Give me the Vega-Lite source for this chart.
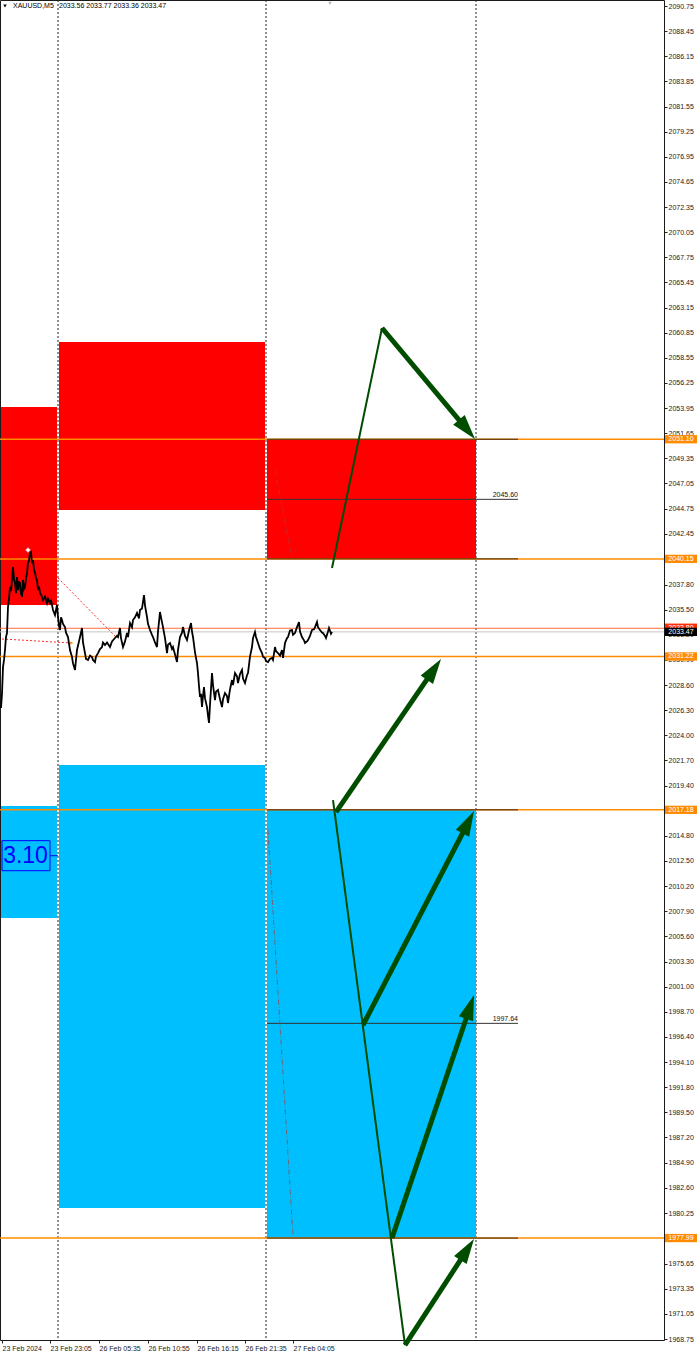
{
  "$schema": "https://vega.github.io/schema/vega-lite/v6.json",
  "width": 664,
  "height": 1340,
  "autosize": {"type": "none"},
  "padding": {"left": 0, "top": 0, "right": 36, "bottom": 18},
  "background": "white",
  "config": {
    "view": {"stroke": "#1a1a1a", "strokeWidth": 1},
    "font": "Liberation Sans",
    "axis": {"labelFont": "Liberation Sans", "labelFontSize": 7, "labelColor": "#222222", "tickColor": "#222222", "tickSize": 3, "grid": false, "domain": false, "labelOverlap": false, "labelFlush": false}
  },
  "resolve": {"scale": {"color": "independent"}},
  "datasets": {
    "zones": [
      {"x0": 1, "x1": 57, "hi": 2054.05, "lo": 2035.93, "kind": "supply"},
      {"x0": 59, "x1": 265, "hi": 2060.00, "lo": 2044.62, "kind": "supply"},
      {"x0": 267, "x1": 476, "hi": 2051.10, "lo": 2040.15, "kind": "supply"},
      {"x0": 1, "x1": 57, "hi": 2017.53, "lo": 2007.28, "kind": "demand"},
      {"x0": 59, "x1": 265, "hi": 2021.28, "lo": 1980.74, "kind": "demand"},
      {"x0": 267, "x1": 476, "hi": 2017.18, "lo": 1977.99, "kind": "demand"}
    ],
    "separators": [{"x": 58}, {"x": 266}, {"x": 476}],
    "levels": [{"p": 2051.10}, {"p": 2040.15}, {"p": 2031.22}, {"p": 2017.18}, {"p": 1977.99}],
    "segments": [{"p": 2051.10}, {"p": 2040.15}, {"p": 2017.18}, {"p": 1977.99}],
    "midlines": [{"p": 2045.60, "label": "2045.60"}, {"p": 1997.64, "label": "1997.64"}],
    "quotes": [{"p": 2033.80, "kind": "ask", "label": "2033.80"}, {"p": 2033.47, "kind": "bid", "label": "2033.47"}],
    "tags": [
      {"p": 2051.10, "label": "2051.10", "kind": "level"},
      {"p": 2040.15, "label": "2040.15", "kind": "level"},
      {"p": 2031.22, "label": "2031.22", "kind": "level"},
      {"p": 2017.18, "label": "2017.18", "kind": "level"},
      {"p": 1977.99, "label": "1977.99", "kind": "level"},
      {"p": 2033.85, "label": "2033.80", "kind": "ask"},
      {"p": 2033.47, "label": "2033.47", "kind": "bid"}
    ],
    "hints": [
      {"seg": "a", "x": 58, "p": 2038.40}, {"seg": "a", "x": 116, "p": 2033.00},
      {"seg": "b", "x": 2, "p": 2032.82}, {"seg": "b", "x": 72, "p": 2032.45}
    ],
    "faint": [
      {"seg": "c", "x": 275, "p": 2048.28}, {"seg": "c", "x": 292, "p": 2040.23},
      {"seg": "d", "x": 268, "p": 2015.33}, {"seg": "d", "x": 293, "p": 1978.17}
    ],
    "price": [
      {"x":1,"p":2026.5},{"x":2,"p":2027.8},{"x":3,"p":2030.25},{"x":4,"p":2030.9},{"x":5,"p":2031.81},{"x":6,"p":2033.0},{"x":7,"p":2033.36},{"x":8,"p":2035.74},{"x":9,"p":2036.5},{"x":10,"p":2037.57},{"x":11,"p":2037.2},{"x":12,"p":2038.22},{"x":13,"p":2039.41},{"x":14,"p":2038.3},{"x":15,"p":2037.94},{"x":16,"p":2037.0},{"x":17,"p":2038.49},{"x":18,"p":2037.3},{"x":19,"p":2038.0},{"x":20,"p":2037.94},{"x":21,"p":2037.0},{"x":22,"p":2036.66},{"x":23,"p":2038.22},{"x":24,"p":2037.4},{"x":25,"p":2037.57},{"x":26,"p":2038.3},{"x":27,"p":2038.86},{"x":28,"p":2039.77},{"x":29,"p":2040.0},{"x":30,"p":2040.69},{"x":31,"p":2040.78},{"x":32,"p":2039.77},{"x":33,"p":2040.05},{"x":34,"p":2039.2},{"x":35,"p":2038.86},{"x":36,"p":2038.4},{"x":37,"p":2038.22},{"x":38,"p":2037.3},{"x":39,"p":2037.6},{"x":40,"p":2037.03},{"x":41,"p":2036.9},{"x":42,"p":2036.66},{"x":43,"p":2036.38},{"x":45,"p":2036.7},{"x":47,"p":2036.11},{"x":48,"p":2036.5},{"x":50,"p":2036.11},{"x":51,"p":2036.4},{"x":53,"p":2035.47},{"x":55,"p":2035.01},{"x":57,"p":2035.93},{"x":58,"p":2034.83},{"x":59,"p":2034.0},{"x":60,"p":2033.64},{"x":61,"p":2034.8},{"x":62,"p":2034.55},{"x":63,"p":2034.2},{"x":65,"p":2033.91},{"x":66,"p":2033.4},{"x":68,"p":2033.0},{"x":70,"p":2031.8},{"x":72,"p":2031.17},{"x":73,"p":2030.6},{"x":75,"p":2029.98},{"x":76,"p":2030.9},{"x":77,"p":2031.81},{"x":79,"p":2032.6},{"x":80,"p":2033.0},{"x":82,"p":2033.82},{"x":83,"p":2032.5},{"x":85,"p":2031.53},{"x":86,"p":2031.0},{"x":88,"p":2030.89},{"x":90,"p":2031.3},{"x":92,"p":2031.17},{"x":93,"p":2030.9},{"x":95,"p":2030.71},{"x":96,"p":2031.2},{"x":98,"p":2031.53},{"x":100,"p":2031.9},{"x":102,"p":2032.08},{"x":103,"p":2032.5},{"x":105,"p":2032.27},{"x":107,"p":2032.5},{"x":110,"p":2032.08},{"x":112,"p":2032.6},{"x":115,"p":2032.91},{"x":117,"p":2033.1},{"x":118,"p":2033.0},{"x":120,"p":2033.82},{"x":121,"p":2032.9},{"x":123,"p":2032.08},{"x":125,"p":2032.6},{"x":127,"p":2033.36},{"x":128,"p":2033.0},{"x":130,"p":2034.28},{"x":132,"p":2033.9},{"x":133,"p":2034.55},{"x":135,"p":2034.8},{"x":137,"p":2035.2},{"x":139,"p":2034.7},{"x":140,"p":2035.47},{"x":142,"p":2035.6},{"x":144,"p":2036.84},{"x":145,"p":2035.9},{"x":147,"p":2034.83},{"x":148,"p":2034.2},{"x":150,"p":2033.64},{"x":152,"p":2033.2},{"x":153,"p":2033.0},{"x":155,"p":2032.5},{"x":157,"p":2032.08},{"x":158,"p":2033.5},{"x":160,"p":2035.29},{"x":161,"p":2034.8},{"x":163,"p":2033.91},{"x":165,"p":2032.9},{"x":167,"p":2031.53},{"x":168,"p":2032.3},{"x":170,"p":2032.45},{"x":172,"p":2031.9},{"x":173,"p":2032.08},{"x":175,"p":2031.4},{"x":177,"p":2030.71},{"x":178,"p":2031.8},{"x":180,"p":2033.0},{"x":182,"p":2033.4},{"x":183,"p":2033.91},{"x":185,"p":2033.1},{"x":187,"p":2032.72},{"x":189,"p":2033.6},{"x":191,"p":2034.28},{"x":192,"p":2033.5},{"x":193,"p":2033.0},{"x":195,"p":2031.6},{"x":197,"p":2030.62},{"x":198,"p":2029.7},{"x":199,"p":2028.5},{"x":200,"p":2027.51},{"x":201,"p":2027.8},{"x":202,"p":2026.59},{"x":203,"p":2027.6},{"x":204,"p":2028.42},{"x":205,"p":2027.4},{"x":207,"p":2026.59},{"x":208,"p":2025.8},{"x":209,"p":2025.13},{"x":210,"p":2026.8},{"x":212,"p":2029.7},{"x":213,"p":2028.6},{"x":215,"p":2027.23},{"x":216,"p":2028.0},{"x":218,"p":2028.15},{"x":220,"p":2027.3},{"x":222,"p":2026.59},{"x":223,"p":2027.3},{"x":225,"p":2027.87},{"x":227,"p":2027.6},{"x":228,"p":2026.96},{"x":230,"p":2028.2},{"x":232,"p":2029.06},{"x":233,"p":2028.6},{"x":235,"p":2029.7},{"x":237,"p":2029.4},{"x":238,"p":2028.79},{"x":240,"p":2029.6},{"x":242,"p":2029.98},{"x":243,"p":2029.2},{"x":245,"p":2028.79},{"x":247,"p":2029.5},{"x":248,"p":2029.7},{"x":250,"p":2031.2},{"x":252,"p":2032.08},{"x":253,"p":2032.9},{"x":255,"p":2033.46},{"x":256,"p":2033.0},{"x":258,"p":2032.45},{"x":260,"p":2031.9},{"x":262,"p":2031.53},{"x":263,"p":2031.2},{"x":265,"p":2031.08},{"x":266,"p":2030.8},{"x":268,"p":2030.71},{"x":270,"p":2031.0},{"x":272,"p":2031.08},{"x":273,"p":2030.9},{"x":275,"p":2032.08},{"x":276,"p":2031.7},{"x":278,"p":2031.53},{"x":280,"p":2031.3},{"x":282,"p":2031.8},{"x":283,"p":2031.08},{"x":285,"p":2032.45},{"x":287,"p":2032.9},{"x":288,"p":2033.0},{"x":290,"p":2033.6},{"x":292,"p":2033.64},{"x":293,"p":2033.2},{"x":295,"p":2033.36},{"x":297,"p":2033.9},{"x":299,"p":2034.37},{"x":300,"p":2033.5},{"x":302,"p":2033.0},{"x":304,"p":2032.7},{"x":305,"p":2032.45},{"x":307,"p":2032.6},{"x":308,"p":2032.72},{"x":310,"p":2033.1},{"x":312,"p":2033.64},{"x":314,"p":2033.7},{"x":315,"p":2033.91},{"x":317,"p":2034.37},{"x":318,"p":2033.9},{"x":320,"p":2033.64},{"x":322,"p":2033.4},{"x":323,"p":2033.36},{"x":325,"p":2033.1},{"x":326,"p":2032.91},{"x":328,"p":2033.5},{"x":329,"p":2033.82},{"x":331,"p":2033.3},{"x":332,"p":2033.47}
    ],
    "paths": [
      {"seg": "t1", "w": "thin", "o": 0, "x": 332, "p": 2039.31},
      {"seg": "t1", "w": "thin", "o": 1, "x": 382, "p": 2061.28},
      {"seg": "t2", "w": "thin", "o": 0, "x": 333, "p": 2018.08},
      {"seg": "t2", "w": "thin", "o": 1, "x": 405, "p": 1968.20},
      {"seg": "k1", "w": "thick", "o": 0, "x": 382, "p": 2061.28},
      {"seg": "k1", "w": "thick", "o": 1, "x": 467.3, "p": 2051.96},
      {"seg": "k2", "w": "thick", "o": 0, "x": 336, "p": 2016.98},
      {"seg": "k2", "w": "thick", "o": 1, "x": 434.2, "p": 2030.08},
      {"seg": "k3", "w": "thick", "o": 0, "x": 363, "p": 1997.49},
      {"seg": "k3", "w": "thick", "o": 1, "x": 468.5, "p": 2016.09},
      {"seg": "k4", "w": "thick", "o": 0, "x": 392, "p": 1977.99},
      {"seg": "k4", "w": "thick", "o": 1, "x": 470.2, "p": 1999.19},
      {"seg": "k5", "w": "thick", "o": 0, "x": 405, "p": 1968.20},
      {"seg": "k5", "w": "thick", "o": 1, "x": 467.5, "p": 1976.97}
    ],
    "heads": [
      {"x": 475, "p": 2051.12, "heading": 140.0},
      {"x": 441, "p": 2030.98, "heading": 34.5},
      {"x": 474, "p": 2017.07, "heading": 27.4},
      {"x": 474, "p": 2000.23, "heading": 18.6},
      {"x": 474, "p": 1977.90, "heading": 33.1}
    ],
    "captions": [
      {"x": 13, "p": 2090.72, "text": "XAUUSD,M5"},
      {"x": 59, "p": 2090.72, "text": "2033.56 2033.77 2033.36 2033.47"}
    ]
  },
  "layer": [
    {
      "data": {"name": "separators"},
      "mark": {"type": "rule", "color": "#222222", "strokeDash": [2, 2], "strokeWidth": 1},
      "encoding": {
        "x": {"field": "x", "type": "quantitative", "scale": {"domain": [0, 664], "nice": false, "zero": false},
          "axis": {"title": null, "orient": "bottom", "labelOverlap": false, "labelFlush": false, "tickCount": 20, "values": [2, 50, 99, 148, 197, 245, 293], "labelAlign": "left", "labelPadding": 1,
            "labelExpr": "datum.value == 2 ? '23 Feb 2024' : datum.value == 50 ? '23 Feb 23:05' : datum.value == 99 ? '26 Feb 05:35' : datum.value == 148 ? '26 Feb 10:55' : datum.value == 197 ? '26 Feb 16:15' : datum.value == 245 ? '26 Feb 21:35' : '27 Feb 04:05'"}}
      }
    },
    {
      "data": {"name": "zones"},
      "mark": {"type": "rect"},
      "encoding": {
        "x": {"field": "x0", "type": "quantitative"},
        "x2": {"field": "x1"},
        "y": {"field": "hi", "type": "quantitative", "scale": {"domain": [1968.66, 2091.30], "nice": false, "zero": false},
          "axis": {"title": null, "orient": "right", "format": ".2f", "labelPadding": 1, "labelOverlap": false, "labelFlush": false, "labelBound": false, "tickCount": 80,
            "values": [2090.75, 2088.45, 2086.15, 2083.85, 2081.55, 2079.25, 2076.95, 2074.65, 2072.35, 2070.05, 2067.75, 2065.45, 2063.15, 2060.85, 2058.55, 2056.25, 2053.95, 2051.65, 2049.35, 2047.05, 2044.75, 2042.45, 2040.15, 2037.80, 2035.50, 2033.20, 2030.90, 2028.60, 2026.30, 2024.00, 2021.70, 2019.40, 2017.10, 2014.80, 2012.50, 2010.20, 2007.90, 2005.60, 2003.30, 2001.00, 1998.70, 1996.40, 1994.10, 1991.80, 1989.50, 1987.20, 1984.90, 1982.60, 1980.25, 1977.95, 1975.65, 1973.35, 1971.05, 1968.75]}},
        "y2": {"field": "lo"},
        "color": {"field": "kind", "type": "nominal", "scale": {"domain": ["supply", "demand"], "range": ["#ff0000", "#00bfff"]}, "legend": null}
      }
    },
    {
      "data": {"name": "levels"},
      "mark": {"type": "rule", "color": "#ff8c00", "strokeWidth": 1.5},
      "encoding": {"y": {"field": "p", "type": "quantitative"}}
    },
    {
      "data": {"name": "segments"},
      "mark": {"type": "rule", "color": "#3d2614", "strokeWidth": 1},
      "encoding": {
        "x": {"datum": 267, "type": "quantitative"},
        "x2": {"datum": 518},
        "y": {"field": "p", "type": "quantitative"}
      }
    },
    {
      "data": {"name": "midlines"},
      "mark": {"type": "rule", "color": "#333333", "strokeWidth": 1},
      "encoding": {
        "x": {"datum": 267, "type": "quantitative"},
        "x2": {"datum": 518},
        "y": {"field": "p", "type": "quantitative"}
      }
    },
    {
      "data": {"name": "midlines"},
      "mark": {"type": "text", "align": "right", "baseline": "bottom", "dy": -1, "fontSize": 7, "color": "#111111"},
      "encoding": {
        "x": {"datum": 518, "type": "quantitative"},
        "y": {"field": "p", "type": "quantitative"},
        "text": {"field": "label"}
      }
    },
    {
      "data": {"name": "quotes"},
      "mark": {"type": "rule", "strokeWidth": 1},
      "encoding": {
        "y": {"field": "p", "type": "quantitative"},
        "color": {"field": "kind", "type": "nominal", "scale": {"domain": ["ask", "bid"], "range": ["#ff6a3d", "#c4c4c4"]}, "legend": null}
      }
    },
    {
      "data": {"name": "faint"},
      "mark": {"type": "line", "color": "#a83a3a", "strokeWidth": 1, "strokeDash": [5, 2, 1, 2], "opacity": 0.7},
      "encoding": {
        "x": {"field": "x", "type": "quantitative"},
        "y": {"field": "p", "type": "quantitative"},
        "detail": {"field": "seg"}
      }
    },
    {
      "data": {"name": "hints"},
      "mark": {"type": "line", "color": "#ff2a2a", "strokeWidth": 1, "strokeDash": [2, 2]},
      "encoding": {
        "x": {"field": "x", "type": "quantitative"},
        "y": {"field": "p", "type": "quantitative"},
        "detail": {"field": "seg"}
      }
    },
    {
      "data": {"values": [{"x": 72, "p": 2032.45}, {"x": 116, "p": 2033.0}]},
      "mark": {"type": "point", "shape": "triangle-right", "filled": true, "color": "#e8a000", "size": 14},
      "encoding": {
        "x": {"field": "x", "type": "quantitative"},
        "y": {"field": "p", "type": "quantitative"}
      }
    },
    {
      "data": {"name": "price"},
      "mark": {"type": "line", "color": "#000000", "strokeWidth": 1.8},
      "encoding": {
        "x": {"field": "x", "type": "quantitative"},
        "y": {"field": "p", "type": "quantitative"}
      }
    },
    {
      "data": {"values": [{"x": 28, "p": 2040.96}]},
      "mark": {"type": "point", "shape": "diamond", "filled": true, "fill": "white", "stroke": "#ff3030", "strokeWidth": 1, "size": 30, "opacity": 1},
      "encoding": {
        "x": {"field": "x", "type": "quantitative"},
        "y": {"field": "p", "type": "quantitative"}
      }
    },
    {
      "data": {"name": "paths"},
      "transform": [{"filter": "datum.w == 'thin'"}],
      "mark": {"type": "line", "color": "#004d00", "strokeWidth": 2},
      "encoding": {
        "x": {"field": "x", "type": "quantitative"},
        "y": {"field": "p", "type": "quantitative"},
        "detail": {"field": "seg"},
        "order": {"field": "o"}
      }
    },
    {
      "data": {"name": "paths"},
      "transform": [{"filter": "datum.w == 'thick'"}],
      "mark": {"type": "line", "color": "#004d00", "strokeWidth": 5, "strokeCap": "butt"},
      "encoding": {
        "x": {"field": "x", "type": "quantitative"},
        "y": {"field": "p", "type": "quantitative"},
        "detail": {"field": "seg"},
        "order": {"field": "o"}
      }
    },
    {
      "data": {"name": "heads"},
      "mark": {"type": "point", "shape": "M0,0L-0.3,1L0.3,1Z", "filled": true, "color": "#004d00", "size": 2500, "opacity": 1},
      "encoding": {
        "x": {"field": "x", "type": "quantitative"},
        "y": {"field": "p", "type": "quantitative"},
        "angle": {"field": "heading", "type": "quantitative", "scale": null}
      }
    },
    {
      "data": {"values": [{"x0": 2, "x1": 50, "hi": 2014.36, "lo": 2011.61}]},
      "mark": {"type": "rect", "fill": null, "fillOpacity": 0, "stroke": "#0000ff", "strokeWidth": 1},
      "encoding": {
        "x": {"field": "x0", "type": "quantitative"},
        "x2": {"field": "x1"},
        "y": {"field": "hi", "type": "quantitative"},
        "y2": {"field": "lo"}
      }
    },
    {
      "data": {"values": [{"x0": 50, "x1": 58, "p": 2012.98}]},
      "mark": {"type": "rule", "color": "#0000ff", "strokeWidth": 1},
      "encoding": {
        "x": {"field": "x0", "type": "quantitative"},
        "x2": {"field": "x1"},
        "y": {"field": "p", "type": "quantitative"}
      }
    },
    {
      "data": {"values": [{"x": 25.5, "p": 2012.98, "text": "3.10"}]},
      "mark": {"type": "text", "align": "center", "baseline": "middle", "fontSize": 23, "color": "#0000ff", "font": "Liberation Sans"},
      "encoding": {
        "x": {"field": "x", "type": "quantitative"},
        "y": {"field": "p", "type": "quantitative"},
        "text": {"field": "text"}
      }
    },
    {
      "data": {"name": "captions"},
      "mark": {"type": "text", "align": "left", "baseline": "middle", "fontSize": 7, "color": "#000000"},
      "encoding": {
        "x": {"field": "x", "type": "quantitative"},
        "y": {"field": "p", "type": "quantitative"},
        "text": {"field": "text"}
      }
    },
    {
      "data": {"values": [{"x": 5, "p": 2090.75, "m": "menu"}, {"x": 330, "p": 2091.0, "m": "scroll"}]},
      "mark": {"type": "point", "shape": "triangle-down", "filled": true, "size": 12, "opacity": 1},
      "encoding": {
        "x": {"field": "x", "type": "quantitative"},
        "y": {"field": "p", "type": "quantitative"},
        "color": {"field": "m", "type": "nominal", "scale": {"domain": ["menu", "scroll"], "range": ["#000000", "#b0b0b0"]}, "legend": null}
      }
    },
    {
      "data": {"name": "tags"},
      "transform": [{"filter": "datum.kind != 'bid'"}, {"calculate": "datum.p + 0.38", "as": "top"}, {"calculate": "datum.p - 0.38", "as": "bot"}],
      "mark": {"type": "rect"},
      "encoding": {
        "x": {"datum": 665, "type": "quantitative"},
        "x2": {"datum": 697},
        "y": {"field": "top", "type": "quantitative"},
        "y2": {"field": "bot"},
        "color": {"field": "kind", "type": "nominal", "scale": {"domain": ["level", "ask"], "range": ["#ff8c00", "#ff3000"]}, "legend": null}
      }
    },
    {
      "data": {"name": "tags"},
      "transform": [{"filter": "datum.kind != 'bid'"}],
      "mark": {"type": "text", "align": "center", "baseline": "middle", "fontSize": 7, "color": "#ffffff"},
      "encoding": {
        "x": {"datum": 681, "type": "quantitative"},
        "y": {"field": "p", "type": "quantitative"},
        "text": {"field": "label"}
      }
    },
    {
      "data": {"name": "tags"},
      "transform": [{"filter": "datum.kind == 'bid'"}, {"calculate": "datum.p + 0.38", "as": "top"}, {"calculate": "datum.p - 0.38", "as": "bot"}],
      "mark": {"type": "rect", "color": "#000000"},
      "encoding": {
        "x": {"datum": 665, "type": "quantitative"},
        "x2": {"datum": 697},
        "y": {"field": "top", "type": "quantitative"},
        "y2": {"field": "bot"}
      }
    },
    {
      "data": {"name": "tags"},
      "transform": [{"filter": "datum.kind == 'bid'"}],
      "mark": {"type": "text", "align": "center", "baseline": "middle", "fontSize": 7, "color": "#ffffff"},
      "encoding": {
        "x": {"datum": 681, "type": "quantitative"},
        "y": {"field": "p", "type": "quantitative"},
        "text": {"field": "label"}
      }
    }
  ]
}
